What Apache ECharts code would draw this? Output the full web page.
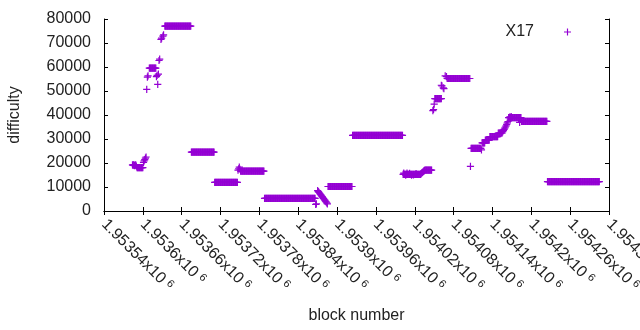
<!DOCTYPE html>
<html><head><meta charset="utf-8">
<script src="https://cdn.jsdelivr.net/npm/echarts@6/dist/echarts.min.js"></script>
<style>html,body{margin:0;padding:0;background:#fff}#c{width:640px;height:330px}</style>
</head><body><div id="c"></div>
<script>
// Runs of blocks with a flat difficulty: first block, last block, difficulty
const runFirst = [1953591, 1953610, 1953634, 1953675, 1953711, 1953751, 1953788, 1953886, 1953924, 1954002, 1954036, 1954051, 1954070, 1954107, 1954124, 1954129, 1954136, 1954149, 1954165, 1954185, 1954225];
const runLast  = [1953600, 1953620, 1953674, 1953710, 1953746, 1953787, 1953866, 1953923, 1954001, 1954029, 1954046, 1954061, 1954105, 1954122, 1954128, 1954135, 1954148, 1954155, 1954184, 1954224, 1954305];
const runValue = [18100, 59500, 77000, 24500, 11900, 16600, 5300, 10200, 31500, 15300, 17000, 46800, 55200, 26100, 28400, 29500, 31000, 32500, 38900, 37350, 12200];

// Individual blocks
const pointBlock = [
  1953584, 1953585, 1953586, 1953587, 1953588, 1953589, 1953590,
  1953601, 1953602, 1953603, 1953604, 1953605,
  1953606, 1953607, 1953608,
  1953621, 1953622, 1953623, 1953624, 1953625, 1953626,
  1953628, 1953629, 1953631, 1953632,
  1953747, 1953748, 1953749, 1953750,
  1953867, 1953868,
  1953870, 1953871, 1953872, 1953873, 1953874, 1953875, 1953876, 1953877,
  1953878, 1953879, 1953880, 1953881, 1953882, 1953883, 1953884, 1953885,
  1954003, 1954006, 1954008, 1954012, 1954015, 1954018, 1954022,
  1954030, 1954031, 1954032, 1954033, 1954034, 1954035,
  1954048, 1954049, 1954050,
  1954061, 1954062, 1954064, 1954065,
  1954067, 1954069,
  1954106,
  1954123,
  1954156, 1954157, 1954158, 1954159, 1954160, 1954161, 1954162, 1954163, 1954164,
  1954167, 1954169, 1954182
];
const pointValue = [
  19200, 19000, 19300, 18900, 19100, 19200, 18700,
  20300, 20900, 21400, 22000, 22500,
  50700, 55800, 56300,
  56000, 56500, 52800, 57000, 62700, 63300,
  71500, 72000, 72900, 73400,
  17000, 17600, 18300, 17400,
  2700, 3000,
  8500, 8100, 7800, 7400, 7000, 6700, 6300, 6000,
  5600, 5200, 4900, 4500, 4100, 3800, 3400, 3000,
  15800, 14900, 15800, 15700, 14900, 15000, 15600,
  15600, 15900, 16100, 16400, 16700, 16900,
  41800, 42300, 44500,
  52400, 52100, 51300, 51000,
  56300, 56000,
  18600,
  25500,
  33100, 33600, 34000, 34500, 35000, 35500, 36100, 36700, 37300,
  39200, 39300, 36900
];

const seriesName = 'X17';
const xMin = 1953540, xMax = 1954320, xStep = 60;
const yMin = 0, yMax = 80000, yStep = 10000;

const data = [];
for (let i = 0; i < runFirst.length; i++) {
  for (let b = runFirst[i]; b <= runLast[i]; b++) data.push([b, runValue[i]]);
}
for (let i = 0; i < pointBlock.length; i++) data.push([pointBlock[i], pointValue[i]]);

const FONT = "'Liberation Sans', Arial, sans-serif";
const COLOR = '#9400d3';
const PLUS = 'path://M3,0H4.2V7.2H3ZM0,3H7.2V4.2H0Z';

const chart = echarts.init(document.getElementById('c'), null, {renderer: 'canvas'});
const axisCommon = {
  axisLine: {show: true, lineStyle: {color: '#000', width: 1}},
  axisTick: {show: true, inside: true, length: 4, lineStyle: {color: '#000', width: 1}},
  splitLine: {show: false}
};
chart.setOption({
  animation: false,
  backgroundColor: '#fff',
  textStyle: {fontFamily: FONT},
  grid: {left: 104, right: 31, top: 19, bottom: 119, containLabel: false, outerBoundsMode: 'none'},
  legend: {
    data: [seriesName], right: 69, top: 24, padding: 0, align: 'right',
    icon: PLUS, itemWidth: 7, itemHeight: 7,
    itemStyle: {color: COLOR},
    formatter: '{t|{name}}',
    textStyle: {fontSize: 16, color: '#222', fontFamily: FONT, rich: {t: {fontSize: 16, color: '#222', fontFamily: FONT, padding: [0, 25, 0, 0]}}}
  },
  xAxis: [
    Object.assign({
      type: 'value', position: 'bottom', min: xMin, max: xMax, interval: xStep,
      name: 'block number', nameLocation: 'middle', nameGap: 97,
      nameTextStyle: {fontSize: 16, color: '#222', fontFamily: FONT},
      axisLabel: {
        show: true, rotate: -45, margin: 11, color: '#222', fontSize: 16, fontFamily: FONT,
        showMinLabel: true, showMaxLabel: true, hideOverlap: false,
        formatter: v => '{m|' + String(+(v / 1e6).toFixed(6)) + 'x10}{s|6}',
        rich: {
          m: {fontSize: 16, color: '#222', fontFamily: FONT},
          s: {fontSize: 11, color: '#222', fontFamily: FONT, padding: [0, 0, 6, 4]}
        }
      }
    }, axisCommon),
    Object.assign({
      type: 'value', position: 'top', min: xMin, max: xMax, interval: xStep,
      axisLabel: {show: false}
    }, axisCommon)
  ],
  yAxis: [
    Object.assign({
      type: 'value', position: 'left', min: yMin, max: yMax, interval: yStep,
      name: 'difficulty', nameLocation: 'middle', nameGap: 81, nameRotate: 90,
      nameTextStyle: {fontSize: 16, color: '#222', fontFamily: FONT},
      axisLabel: {show: true, margin: 13, color: '#222', fontSize: 16, fontFamily: FONT, formatter: v => String(v)}
    }, axisCommon),
    Object.assign({
      type: 'value', position: 'right', min: yMin, max: yMax, interval: yStep,
      axisLabel: {show: false}
    }, axisCommon)
  ],
  series: [{
    name: seriesName, type: 'scatter', xAxisIndex: 0, yAxisIndex: 0,
    symbol: PLUS, symbolSize: 7.2, large: false,
    itemStyle: {color: COLOR, opacity: 1},
    emphasis: {disabled: true},
    data: data
  }]
});
</script></body></html>
